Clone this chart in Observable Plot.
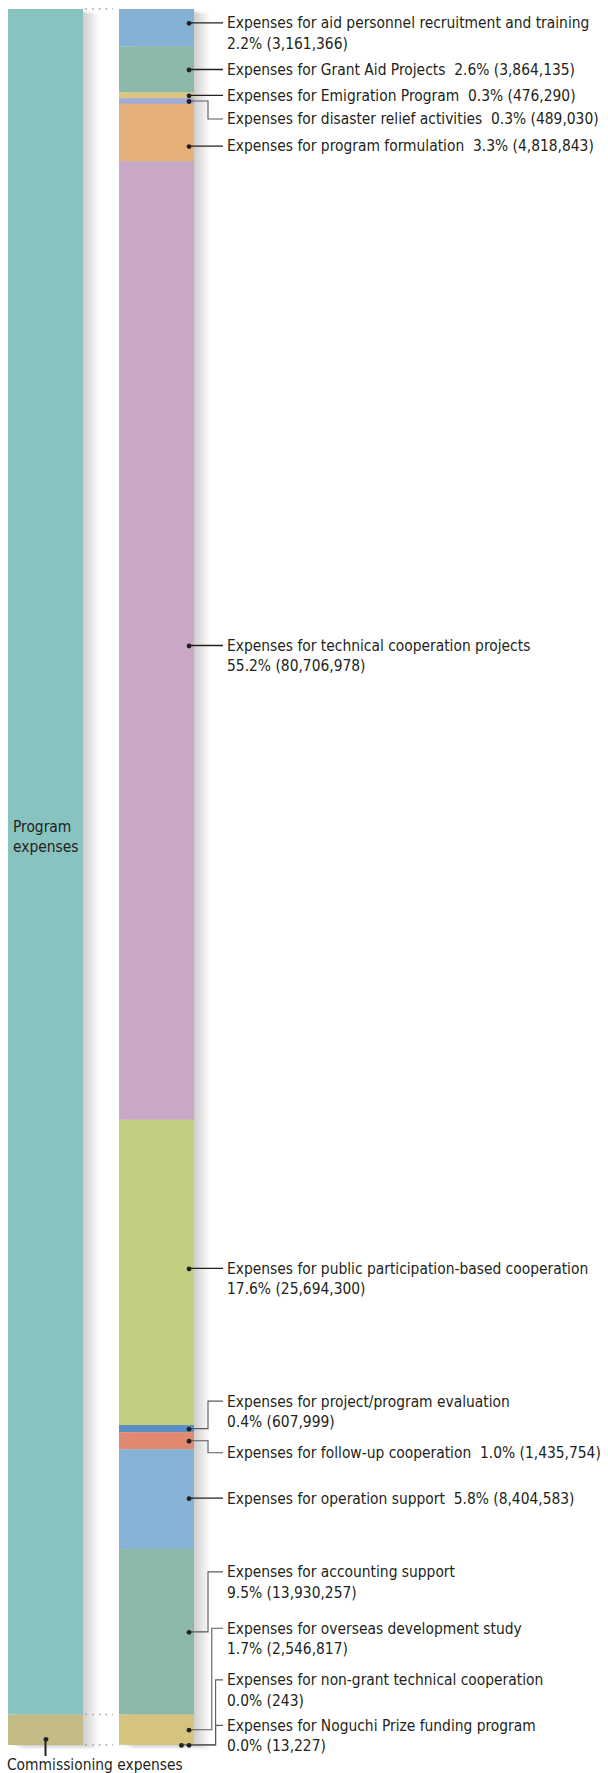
<!DOCTYPE html>
<html><head><meta charset="utf-8">
<script src="https://cdn.jsdelivr.net/npm/d3@7"></script>
<script src="https://cdn.jsdelivr.net/npm/@observablehq/plot@0.6"></script>
<style>body{margin:0;background:#fff}</style>
</head><body><div id="chart"></div>
<script>
// ---------- data ----------
const categories = [
  "aid personnel recruitment and training",
  "Grant Aid Projects",
  "Emigration Program",
  "disaster relief activities",
  "program formulation",
  "technical cooperation projects",
  "public participation-based cooperation",
  "project/program evaluation",
  "follow-up cooperation",
  "operation support",
  "accounting support",
  "overseas development study",
  "non-grant technical cooperation",
  "Noguchi Prize funding program"
];
const values = [3161366, 3864135, 476290, 489030, 4818843, 80706978, 25694300,
  607999, 1435754, 8404583, 13930257, 2546817, 243, 13227];
const groupOf = ["Program","Program","Program","Program","Program","Program","Program",
  "Program","Program","Program","Program","Commissioning","Commissioning","Commissioning"];
const groups = ["Program", "Commissioning"];
const groupLabels = ["Program expenses", "Commissioning expenses"];
const colors = ["#85b1d5","#8bb8a8","#d9c77f","#a5a9d5","#e6b07b","#c8a8c4","#c0cf80",
  "#5b8ec3","#e08870","#86b2d6","#8bb8a8","#d4c47e","#d4c47e","#d4c47e"];
const groupColors = ["#88c3bf", "#c3bb86"];

// ---------- layout (annotation placement) ----------
const labelNudge = [-5, 0, 0, 18, 13.5, 5, -4, -27.5, 12, -1, -60, -101.5, -65, -19.5]; // px from segment middle
const twoLine = [true,false,false,false,false,true,true,true,false,false,true,true,true,true];

const FONT = "'DejaVu Sans Condensed', 'Liberation Sans Narrow', 'Liberation Sans', sans-serif";
const FS = 15.4, LH = 20.5, INK = "#231f20";
const Y0 = 9, Y1 = 1745;
const xDomain = ["Total", "Breakdown"], xRange = [7, 195], padIn = 0.32;

const total = d3.sum(values);
const ends = Array.from(d3.cumsum(values));
const yS = d3.scaleLinear([0, total], [Y0, Y1]);
const xS = d3.scaleBand(xDomain, xRange).paddingInner(padIn).paddingOuter(0);
const bw = xS.bandwidth();
const rEdge = xS("Breakdown") + bw;
const rCenter = xS("Breakdown") + bw / 2;
const lCenter = xS("Total") + bw / 2;
const fmt = d3.format(",");
const pctf = d3.format(".1f");

const rows = categories.map((name, i) => {
  const y1 = ends[i] - values[i], y2 = ends[i], mid = (y1 + y2) / 2;
  const pct = `${pctf(values[i] / total * 100)}% (${fmt(values[i])})`;
  const head = `Expenses for ${name}`;
  const labelPx = yS(mid) + labelNudge[i];
  const inside = labelPx > yS(y1) + 1 && labelPx < yS(y2) - 1;
  const elbow = !(inside && Math.abs(labelNudge[i]) < 20);
  const dotPx = elbow ? yS(mid) : labelPx;
  return {
    column: "Breakdown", name, value: values[i], color: colors[i], y1, y2, group: groupOf[i],
    line1: twoLine[i] ? head : head + "\u00a0 " + pct,
    line2: twoLine[i] ? pct : null,
    labelPx, labelVal: yS.invert(labelPx), elbow, dotPx, dotVal: yS.invert(dotPx), shift: 0, lane: 0
  };
});
// double dots & lanes for nested elbows
rows.forEach((r, i) => {
  for (let j = 0; j < i; j++) if (Math.abs(rows[j].dotPx - r.dotPx) < 3) r.shift = 1;
  if (!r.elbow) return;
  let lane = 0;
  for (let j = 0; j < i; j++) {
    const o = rows[j];
    if (!o.elbow) continue;
    const a0 = Math.min(o.labelPx, o.dotPx), a1 = Math.max(o.labelPx, o.dotPx);
    const b0 = Math.min(r.labelPx, r.dotPx), b1 = Math.max(r.labelPx, r.dotPx);
    if (b0 <= a1 && a0 <= b1) {
      if (Math.abs(o.dotPx - r.dotPx) < 3) lane = Math.max(lane, o.lane);
      else lane = Math.max(lane, o.lane + 1);
    }
  }
  r.lane = lane;
});

const leftRows = groups.map((g, i) => {
  const v = d3.sum(rows.filter(r => r.group === g), r => r.value);
  return {column: "Total", name: groupLabels[i], value: v, color: groupColors[i]};
});
let acc = 0;
leftRows.forEach(r => { r.y1 = acc; acc += r.value; r.y2 = acc; r.mid = (r.y1 + r.y2) / 2; });
const programTotal = leftRows[0].y2;
const progLabel = [{column: "Total", text: "Program\nexpenses", y: yS.invert(yS(leftRows[0].mid) - 27)}];
const commDotPx = yS(leftRows[1].mid) + 9;
const commDot = [{column: "Total", y: yS.invert(commDotPx)}];
const commText = [{column: "Total", text: groupLabels[1], y: yS.invert(Y1 + 20)}];

const colExt = xDomain.map(c => ({column: c, y1: 0, y2: total}));
const shadow = d3.range(1, 17).map(k => Plot.barY(colExt, {
  x: "column", y1: "y1", y2: "y2", fill: "#000", fillOpacity: 0.012, dx: k, dy: k * 0.3
}));

function connectors(index, scales) {
  const x = scales.x, y = scales.y;
  const b = typeof x.bandwidth === "function" ? x.bandwidth() : x.bandwidth;
  const re = x("Breakdown") + b, le = x("Total") + b;
  const g = d3.create("svg:g");
  for (const v of [0, programTotal, total]) {
    g.append("line").attr("x1", le + 2.5).attr("x2", x("Breakdown") - 6)
      .attr("y1", y(v)).attr("y2", y(v))
      .attr("stroke", "#9a9a9a").attr("stroke-width", 1.5).attr("stroke-dasharray", "1.5 5.2");
  }
  const ex = re + 29;
  rows.forEach(r => {
    const dx = re - 6 - r.shift * 7.6, dy = y(r.dotVal), ly = y(r.labelVal);
    if (!r.elbow) {
      g.append("line").attr("x1", dx).attr("x2", ex).attr("y1", ly).attr("y2", ly)
        .attr("stroke", INK).attr("stroke-width", 1.3);
    } else {
      const lx = re + 14 + r.lane * 3.8;
      g.append("path").attr("d", `M${dx},${dy}H${lx}V${ly}H${ex}`)
        .attr("fill", "none").attr("stroke", "#5a5a5a").attr("stroke-width", 1.1);
    }
  });
  const cx = x("Total") + b / 2;
  g.append("line").attr("x1", cx).attr("x2", cx).attr("y1", y(commDot[0].y)).attr("y2", y(total) + 11)
    .attr("stroke", INK).attr("stroke-width", 2);
  return g.node();
}

const txt = {x: "column", textAnchor: "start", lineAnchor: "middle", fill: INK, fontSize: FS,
  fontFamily: FONT, dx: rEdge + 32 - rCenter};

const plot = Plot.plot({
  width: 608, height: 1773, margin: 0,
  x: {type: "band", domain: xDomain, range: xRange, paddingInner: padIn, paddingOuter: 0, axis: null},
  y: {domain: [0, total], range: [Y0, Y1], axis: null},
  color: {type: "identity"},
  style: {fontFamily: FONT, fontSize: FS + "px", background: "#fff", overflow: "visible"},
  marks: [
    ...shadow,
    Plot.barY(leftRows, {x: "column", y1: "y1", y2: "y2", fill: "color"}),
    Plot.barY(rows, {x: "column", y1: "y1", y2: "y2", fill: "color"}),
    connectors,
    Plot.dot(rows.filter(r => !r.shift), {x: "column", y: "dotVal", r: 2.4, fill: INK, stroke: "none", dx: rEdge - 6 - rCenter}),
    Plot.dot(rows.filter(r => r.shift), {x: "column", y: "dotVal", r: 2.4, fill: INK, stroke: "none", dx: rEdge - 6 - 7.6 - rCenter}),
    Plot.dot(commDot, {x: "column", y: "y", r: 2.4, fill: INK, stroke: "none"}),
    Plot.text(rows, {...txt, y: "labelVal", text: "line1"}),
    Plot.text(rows.filter(r => r.line2), {...txt, y: "labelVal", text: "line2", dy: LH}),
    Plot.text(progLabel, {x: "column", y: "y", text: "text", textAnchor: "start", lineAnchor: "middle",
      lineHeight: LH / FS, fill: INK, fontSize: FS, fontFamily: FONT, dx: 12 - lCenter}),
    Plot.text(commText, {x: "column", y: "y", text: "text", textAnchor: "start", lineAnchor: "middle",
      fill: INK, fontSize: FS, fontFamily: FONT, dx: 6 - lCenter})
  ]
});
document.getElementById("chart").appendChild(plot);
</script>
</body></html>
